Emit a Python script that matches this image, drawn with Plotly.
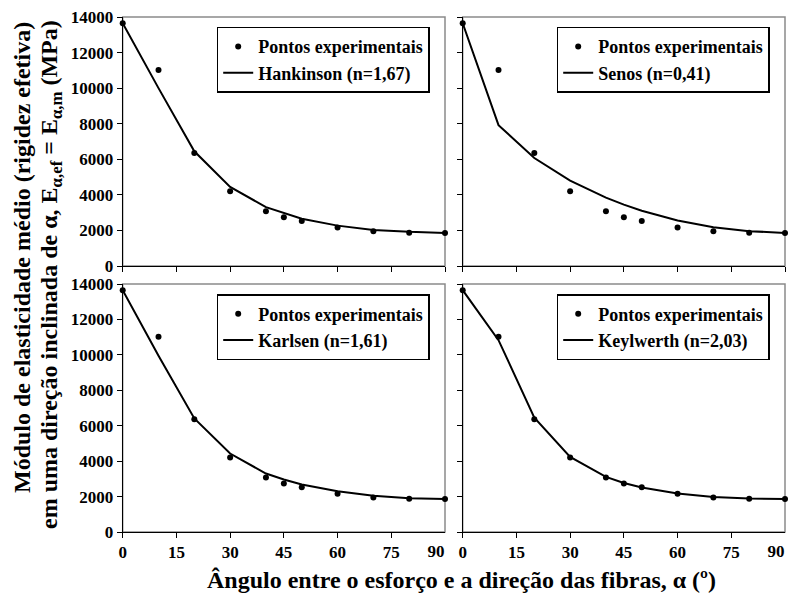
import plotly.graph_objects as go

angles = [0, 10, 20, 30, 40, 45, 50, 60, 70, 80, 90]
experimental = [13650, 11020, 6360, 4200, 3080, 2740, 2530, 2160, 1950, 1870, 1860]
hankinson = [13650, 10000, 6450, 4450, 3310, 2980, 2660, 2270, 2030, 1920, 1860]
senos = [13650, 7920, 6070, 4800, 3840, 3450, 3110, 2560, 2180, 1960, 1860]
karlsen = [13650, 9950, 6410, 4430, 3300, 2960, 2680, 2300, 2040, 1900, 1860]
keylwerth = [13650, 10830, 6460, 4240, 3110, 2770, 2510, 2170, 1980, 1890, 1860]

model_names = ["Hankinson (n=1,67)", "Senos (n=0,41)", "Karlsen (n=1,61)", "Keylwerth (n=2,03)"]
model_values = [hankinson, senos, karlsen, keylwerth]

x_ticks = [0, 15, 30, 45, 60, 75, 90]
x_labels = ["0", "15", "30", "45", "60", "75", "90"]
y_ticks = [0, 2000, 4000, 6000, 8000, 10000, 12000, 14000]
y_labels = ["0", "2000", "4000", "6000", "8000", "10000", "12000", "14000"]

FONT = "Liberation Serif"
W, H = 790, 598

# panel domains (pixel-based)
xdoms = [(122.7 / W, 445 / W), (462.7 / W, 785 / W)]
ydoms = [((H - 266) / H, (H - 17) / H), ((H - 532) / H, (H - 284) / H)]

tickfont = dict(family=FONT, size=17, weight="bold", color="black")

fig = go.Figure()
layout = dict(
    width=W, height=H,
    margin=dict(l=0, r=0, t=0, b=0, autoexpand=False),
    paper_bgcolor="white", plot_bgcolor="white",
    font=dict(family=FONT, color="black", size=16, weight="bold"),
    showlegend=True,
    annotations=[], shapes=[],
)

legend_pos = [(216.7, 26.7), (556.7, 26.7), (216.7, 294), (556.7, 294)]
# bottom panels draw their model line on an overlaying x axis that carries the "90" label
line_xaxis = {3: "x5", 4: "x6"}

for i in range(4):
    r, c = divmod(i, 2)
    n = i + 1
    xa = "x" if n == 1 else f"x{n}"
    ya = "y" if n == 1 else f"y{n}"
    lg = "legend" if n == 1 else f"legend{n}"

    fig.add_trace(go.Scatter(
        x=angles, y=experimental, mode="markers", name="Pontos experimentais",
        marker=dict(color="black", size=6), xaxis=xa, yaxis=ya, legend=lg,
        cliponaxis=False,
    ))
    fig.add_trace(go.Scatter(
        x=angles, y=model_values[i], mode="lines", name=model_names[i],
        line=dict(color="black", width=2), xaxis=line_xaxis.get(n, xa), yaxis=ya,
        legend=lg, cliponaxis=False,
    ))

    layout[f"xaxis{'' if n == 1 else n}"] = dict(
        domain=xdoms[c], range=[0, 90], anchor=ya,
        tickmode="array", tickvals=x_ticks[:-1] if r == 1 else x_ticks,
        ticktext=x_labels[:-1] if r == 1 else x_labels,
        showticklabels=(r == 1),
        ticks="outside", ticklen=5, tickcolor="black",
        showline=True, linecolor="black", linewidth=1,
        showgrid=False, zeroline=False, fixedrange=True, automargin=False,
        tickfont=tickfont,
    )
    layout[f"yaxis{'' if n == 1 else n}"] = dict(
        domain=ydoms[r], range=[0, 14000], anchor=xa,
        tickmode="array", tickvals=y_ticks, ticktext=y_labels,
        showticklabels=(c == 0), ticklabeloverflow="allow",
        ticks="outside", ticklen=5, tickcolor="black",
        showline=True, linecolor="black", linewidth=1,
        showgrid=False, zeroline=False, fixedrange=True, automargin=False,
        tickfont=tickfont,
    )
    # gray frame
    layout["shapes"].append(dict(
        type="rect", xref=f"{xa} domain", yref=f"{ya} domain",
        x0=0, x1=1, y0=0, y1=1, line=dict(color="#8a8a8a", width=1.5),
        layer="below",
    ))
    lx, ly = legend_pos[i]
    layout[lg] = dict(
        x=lx / W, y=(H - ly) / H, xanchor="left", yanchor="top",
        bgcolor="white", bordercolor="black", borderwidth=1.5,
        font=dict(family=FONT, size=18, color="black", weight="bold"),
        itemwidth=30, tracegroupgap=0,
    )

# last x tick label (90) of the bottom panels, drawn left of its tick like the original
for k, (main, anc) in enumerate([("x3", "y3"), ("x4", "y4")]):
    layout[f"xaxis{5 + k}"] = dict(
        overlaying=main, anchor=anc, side="bottom", range=[0, 90],
        tickmode="array", tickvals=[x_ticks[-1]], ticktext=[x_labels[-1]],
        ticklabelposition="outside left", ticks="outside", ticklen=5,
        tickcolor="rgba(0,0,0,0)", ticklabelstandoff=4,
        showline=False, showgrid=False, zeroline=False, fixedrange=True,
        automargin=False, tickfont=tickfont, ticklabeloverflow="allow",
    )

layout["annotations"] += [
    dict(text="Módulo de elasticidade médio (rigidez efetiva)",
         x=22 / W, y=(H - 258) / H, xref="paper", yref="paper",
         xanchor="center", yanchor="middle",
         textangle=-90, showarrow=False,
         font=dict(family=FONT, size=24, color="black", weight="bold")),
    dict(text="em uma direção inclinada de α, E<sub>α,ef</sub> = E<sub>α,m</sub> (MPa)",
         x=51 / W, y=(H - 275) / H, xref="paper", yref="paper",
         xanchor="center", yanchor="middle",
         textangle=-90, showarrow=False,
         font=dict(family=FONT, size=24, color="black", weight="bold")),
    dict(text="Ângulo entre o esforço e a direção das fibras, α (º)",
         x=461 / W, y=(H - 580) / H, xref="paper", yref="paper",
         xanchor="center", yanchor="middle",
         showarrow=False,
         font=dict(family=FONT, size=24, color="black", weight="bold")),
]

fig.update_layout(**layout)
fig.write_html("out.html")
